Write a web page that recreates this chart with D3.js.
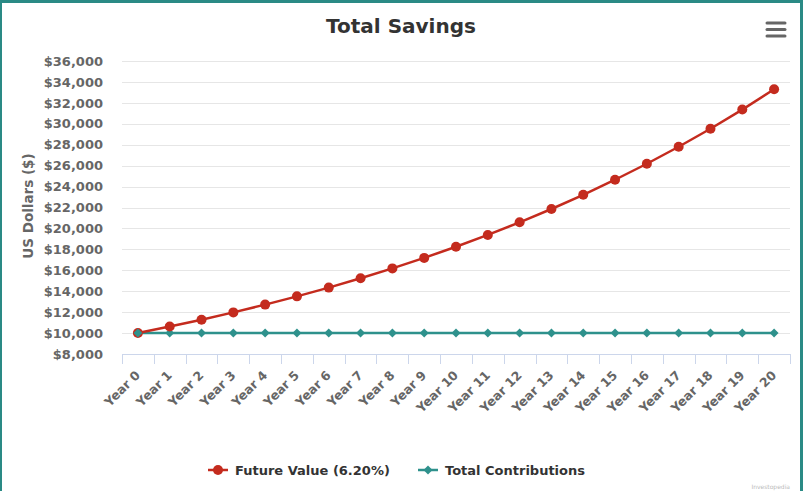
<!DOCTYPE html>
<html>
<head>
<meta charset="utf-8">
<script src="https://cdn.jsdelivr.net/npm/d3@7"></script>
<style>
  body { margin: 0; background: #fff; }
  svg { display: block; font-family: "DejaVu Sans", sans-serif; }
</style>
</head>
<body>
<svg id="chart" width="803" height="491"></svg>
<script>
let years = ['Year 0', 'Year 1', 'Year 2', 'Year 3', 'Year 4', 'Year 5', 'Year 6', 'Year 7',
	'Year 8', 'Year 9', 'Year 10', 'Year 11', 'Year 12', 'Year 13', 'Year 14', 'Year 15',
	'Year 16', 'Year 17', 'Year 18', 'Year 19', 'Year 20'];

let futureValue = [10000, 10620, 11278, 11977, 12720, 13509, 14346, 15236, 16180, 17184,
	18249, 19380, 20582, 21858, 23213, 24652, 26181, 27804, 29528, 31358, 33302];

let contributions = [10000, 10000, 10000, 10000, 10000, 10000, 10000, 10000, 10000, 10000,
	10000, 10000, 10000, 10000, 10000, 10000, 10000, 10000, 10000, 10000, 10000];

let yTicks = [8000, 10000, 12000, 14000, 16000, 18000, 20000, 22000, 24000, 26000, 28000,
	30000, 32000, 34000, 36000];

let seriesNames = ['Future Value (6.20%)', 'Total Contributions'];

let red = '#c42b1e';
let teal = '#2e918c';

let svg = d3.select('#chart');
let width = 803;
let height = 491;
let plot = { left: 122, right: 790, top: 61, bottom: 354 };

let x = d3.scaleBand().domain(years).range([plot.left, plot.right]).padding(0);
let y = d3.scaleLinear().domain([8000, 36000]).range([plot.bottom, plot.top]);
let money = (v) => '$' + d3.format(',')(v);

// gridlines
svg.append('g')
	.selectAll('line')
	.data(yTicks.slice(1))
	.enter()
	.append('line')
	.attr('x1', plot.left)
	.attr('x2', plot.right)
	.attr('y1', (d) => Math.round(y(d)) + 0.5)
	.attr('y2', (d) => Math.round(y(d)) + 0.5)
	.attr('stroke', '#e6e6e6');

// y axis labels
let yAxis = d3.axisLeft(y).tickValues(yTicks).tickFormat(money).tickSize(0).tickPadding(0);
let yG = svg.append('g')
	.attr('transform', 'translate(103,0)')
	.call(yAxis);
yG.select('.domain').remove();
yG.selectAll('text')
	.attr('font-family', '"DejaVu Sans", sans-serif')
	.attr('font-size', 13)
	.attr('font-weight', 'bold')
	.attr('fill', '#666');

// x axis
let xAxis = d3.axisBottom(x).tickSize(0).tickFormat('');
let xG = svg.append('g')
	.attr('transform', 'translate(0,' + plot.bottom + ')')
	.call(xAxis);
xG.select('.domain').attr('stroke', '#ccd6eb');
xG.selectAll('.tick').remove();

let boundaries = years.map((d) => x(d)).concat([plot.right]);
svg.append('g')
	.selectAll('line')
	.data(boundaries)
	.enter()
	.append('line')
	.attr('x1', (d) => Math.round(d) + 0.5)
	.attr('x2', (d) => Math.round(d) + 0.5)
	.attr('y1', plot.bottom)
	.attr('y2', plot.bottom + 10)
	.attr('stroke', '#ccd6eb');

svg.append('g')
	.selectAll('text')
	.data(years)
	.enter()
	.append('text')
	.attr('transform', (d) => 'translate(' + (x(d) + x.bandwidth() / 2 + 3) + ',' + (plot.bottom + 22) + ') rotate(-45)')
	.attr('text-anchor', 'end')
	.attr('font-size', 12.5)
	.attr('font-weight', 'bold')
	.attr('fill', '#666')
	.text((d) => d);

// axis title
svg.append('text')
	.attr('transform', 'translate(33,206) rotate(-90)')
	.attr('text-anchor', 'middle')
	.attr('font-size', 13.5)
	.attr('font-weight', 'bold')
	.attr('fill', '#666')
	.text('US Dollars ($)');

// chart title
svg.append('text')
	.attr('x', 401)
	.attr('y', 33)
	.attr('text-anchor', 'middle')
	.attr('font-size', 20)
	.attr('font-weight', 'bold')
	.attr('fill', '#333')
	.text('Total Savings');

// lines
let cx = (d, i) => x(years[i]) + x.bandwidth() / 2;
let line = d3.line().x(cx).y((d) => y(d));

svg.append('path')
	.datum(contributions)
	.attr('d', line)
	.attr('fill', 'none')
	.attr('stroke', teal)
	.attr('stroke-width', 2.5);

svg.append('path')
	.datum(futureValue)
	.attr('d', line)
	.attr('fill', 'none')
	.attr('stroke', red)
	.attr('stroke-width', 2.5);

let diamond = d3.symbol().type(d3.symbolSquare).size(40);

svg.append('g')
	.selectAll('path')
	.data(contributions)
	.enter()
	.append('path')
	.attr('d', diamond)
	.attr('transform', (d, i) => 'translate(' + cx(d, i) + ',' + y(d) + ') rotate(45)')
	.attr('fill', teal);

svg.append('g')
	.selectAll('circle')
	.data(futureValue)
	.enter()
	.append('circle')
	.attr('cx', cx)
	.attr('cy', (d) => y(d))
	.attr('r', 5)
	.attr('fill', red);

// teal marker drawn on top of the first red point, as in the original
svg.append('path')
	.attr('d', diamond)
	.attr('transform', 'translate(' + cx(0, 0) + ',' + y(contributions[0]) + ') rotate(45)')
	.attr('fill', teal);

// legend
let legend = svg.append('g');
let legendItems = [
	{ name: seriesNames[0], color: red, x: 208, shape: 'circle' },
	{ name: seriesNames[1], color: teal, x: 418, shape: 'diamond' }
];
legendItems.forEach((item) => {
	let g = legend.append('g').attr('transform', 'translate(' + item.x + ',470)');
	g.append('line')
		.attr('x1', 0)
		.attr('x2', 20)
		.attr('stroke', item.color)
		.attr('stroke-width', 2.5);
	if (item.shape === 'circle') {
		g.append('circle').attr('cx', 10).attr('r', 5).attr('fill', item.color);
	} else {
		g.append('path').attr('d', diamond).attr('transform', 'translate(10,0) rotate(45)').attr('fill', item.color);
	}
	g.append('text')
		.attr('x', 27)
		.attr('y', 5)
		.attr('font-size', 13)
		.attr('font-weight', 'bold')
		.attr('fill', '#333')
		.text(item.name);
});

// menu icon
svg.append('g')
	.selectAll('line')
	.data([23, 29.5, 36])
	.enter()
	.append('line')
	.attr('x1', 767)
	.attr('x2', 785)
	.attr('y1', (d) => d)
	.attr('y2', (d) => d)
	.attr('stroke', '#666')
	.attr('stroke-width', 3)
	.attr('stroke-linecap', 'round');

// credits, small at the bottom edge
svg.append('text')
	.attr('x', 790)
	.attr('y', 489)
	.attr('text-anchor', 'end')
	.attr('font-size', 6)
	.attr('fill', '#bbb')
	.text('Investopedia');

// frame
svg.append('rect').attr('x', 0).attr('y', 0).attr('width', width).attr('height', 3).attr('fill', '#2a8a85');
svg.append('rect').attr('x', 0).attr('y', 0).attr('width', 2).attr('height', height).attr('fill', '#2a8a85');
svg.append('rect').attr('x', width - 3).attr('y', 0).attr('width', 3).attr('height', height).attr('fill', '#2a8a85');
</script>
</body>
</html>
